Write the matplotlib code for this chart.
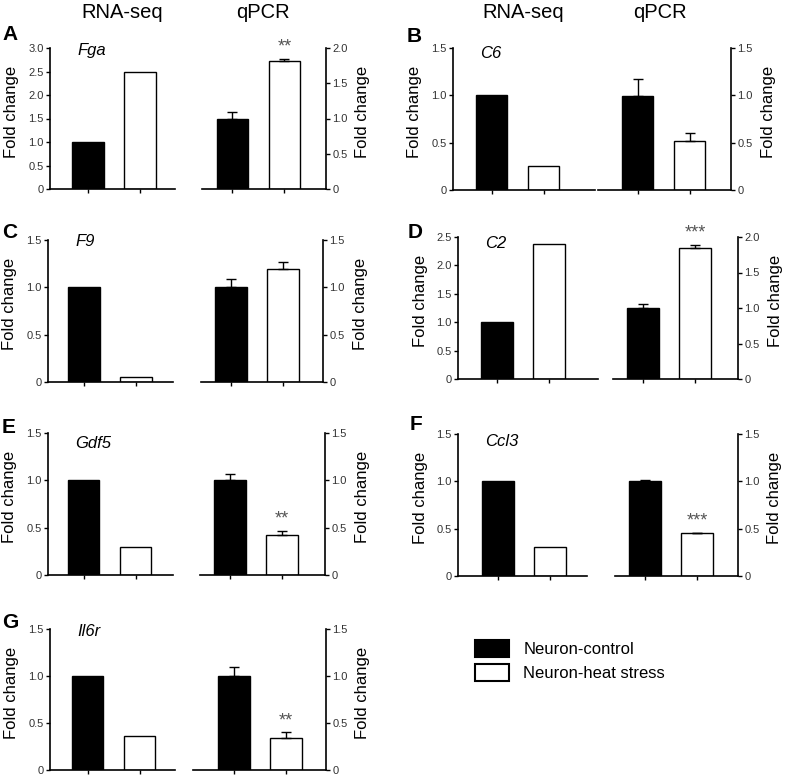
import matplotlib
matplotlib.use('Agg')
import matplotlib.pyplot as plt
from matplotlib.patches import Patch

plt.rcParams['font.family'] = ['Liberation Sans', 'DejaVu Sans']

# data
genes = ['Fga', 'C6', 'F9', 'C2', 'Gdf5', 'Ccl3', 'Il6r']
letters = ['A', 'B', 'C', 'D', 'E', 'F', 'G']
rna_ctrl = [1.0, 1.0, 1.0, 1.0, 1.0, 1.0, 1.0]
rna_heat = [2.5, 0.25, 0.05, 2.37, 0.30, 0.31, 0.365]
qpcr_ctrl = [1.0, 0.99, 1.0, 1.0, 1.0, 1.0, 1.0]
qpcr_ctrl_err = [0.09, 0.18, 0.09, 0.05, 0.065, 0.015, 0.10]
qpcr_heat = [1.81, 0.52, 1.19, 1.85, 0.42, 0.45, 0.344]
qpcr_heat_err = [0.04, 0.08, 0.08, 0.04, 0.045, 0.005, 0.055]
signif = ['**', '', '', '***', '**', '***', '**']
rna_ymax = [3.0, 1.5, 1.5, 2.5, 1.5, 1.5, 1.5]
qpcr_ymax = [2.0, 1.5, 1.5, 2.0, 1.5, 1.5, 1.5]
groups = ['Neuron-control', 'Neuron-heat stress']

W, H = 787, 777
PX_PER_UNIT = 52.0

# layout in pixels: y top, y bottom, (left, right, first bar centre) for rna and qpcr
layout = [
    (48, 189, (50, 175, 88), (202, 326, 232.5)),
    (48, 190, (453, 595, 491.5), (598, 731, 637.5)),
    (240, 382, (48, 173, 84), (201, 323, 231)),
    (237, 379, (458, 598, 497), (613, 738, 643)),
    (433, 575, (48, 173, 83.5), (200, 325, 230)),
    (434, 576, (458, 587, 498), (615, 738, 645)),
    (629, 770, (50, 175, 87.5), (193, 326, 234)),
]
gene_dy = [-3, -5, -2, -6, -10, -8, -3]
letter_pos = [(2, 35), (407, 37), (2, 233), (408, 232), (2, 427), (410, 425), (2, 623)]

fig = plt.figure(figsize=(W / 100, H / 100), dpi=100)


def make_ax(xl, xr, c, ytop, ybot):
    ax = fig.add_axes([xl / W, 1 - ybot / H, (xr - xl) / W, (ybot - ytop) / H])
    ax.set_xlim((xl - c) / PX_PER_UNIT, (xr - c) / PX_PER_UNIT)
    return ax


def style(ax, ymax, side):
    ticks = [i * 0.5 for i in range(int(round(ymax / 0.5)) + 1)]
    ax.set_ylim(0, ymax)
    ax.set_yticks(ticks)
    ax.set_yticklabels(['0' if t == 0 else '%.1f' % t for t in ticks])
    ax.set_xticks([0, 1])
    ax.set_xticklabels([])
    for s in ['top', 'left', 'right']:
        ax.spines[s].set_visible(False)
    ax.spines['bottom'].set_linewidth(1.2)
    ax.spines[side].set_visible(True)
    ax.spines[side].set_linewidth(1.2)
    ax.tick_params(axis='both', length=3, width=1, labelsize=8,
                   labelcolor='#333333', pad=1.5)
    if side == 'right':
        ax.yaxis.tick_right()
        x = 1 + 37 / (ax.get_position().width * W)
    else:
        x = -38 / (ax.get_position().width * W)
    ax.text(x, 0.55, 'Fold change', rotation=90, ha='center', va='center',
            fontsize=12, transform=ax.transAxes)


bw = 0.6
for i in range(len(genes)):
    ytop, ybot, r, q = layout[i]

    ax1 = make_ax(r[0], r[1], r[2], ytop, ybot)
    ax1.bar([0, 1], [rna_ctrl[i], rna_heat[i]], width=bw,
            color=['black', 'white'], edgecolor='black', linewidth=1)
    style(ax1, rna_ymax[i], 'left')
    ax1.annotate(genes[i], xy=(0, 1), xycoords='axes fraction',
                 xytext=(27, gene_dy[i]), textcoords='offset pixels',
                 fontsize=12, style='italic', va='center', ha='left')
    lx, ly = letter_pos[i]
    fig.text(lx / W, 1 - ly / H, letters[i], fontsize=15, fontweight='bold',
             ha='left', va='center')

    ax2 = make_ax(q[0], q[1], q[2], ytop, ybot)
    ax2.bar([0, 1], [qpcr_ctrl[i], qpcr_heat[i]], width=bw,
            color=['black', 'white'], edgecolor='black', linewidth=1)
    ax2.errorbar([0, 1], [qpcr_ctrl[i], qpcr_heat[i]],
                 yerr=[[0, 0], [qpcr_ctrl_err[i], qpcr_heat_err[i]]],
                 fmt='none', ecolor='black', elinewidth=1, capsize=3.5,
                 capthick=1, clip_on=False)
    style(ax2, qpcr_ymax[i], 'right')
    if signif[i]:
        ax2.annotate(signif[i], xy=(1, qpcr_heat[i] + qpcr_heat_err[i]),
                     xytext=(0, 12), textcoords='offset pixels',
                     ha='center', va='center', fontsize=13, color='#555555')

# column headers
for x, t in [(122, 'RNA-seq'), (263, 'qPCR'), (523, 'RNA-seq'), (660, 'qPCR')]:
    fig.text(x / W, 1 - 13 / H, t, fontsize=14.5, ha='center', va='center')

handles = [Patch(facecolor='black', edgecolor='black', linewidth=1.5),
           Patch(facecolor='white', edgecolor='black', linewidth=1.5)]
fig.legend(handles, groups, loc='upper left',
           bbox_to_anchor=(475 / W, 1 - 640 / H), frameon=False,
           fontsize=12, handlelength=2.05, handleheight=1.2,
           handletextpad=0.85, labelspacing=0.4, borderpad=0,
           borderaxespad=0)

fig.savefig('out.png', dpi=100)
